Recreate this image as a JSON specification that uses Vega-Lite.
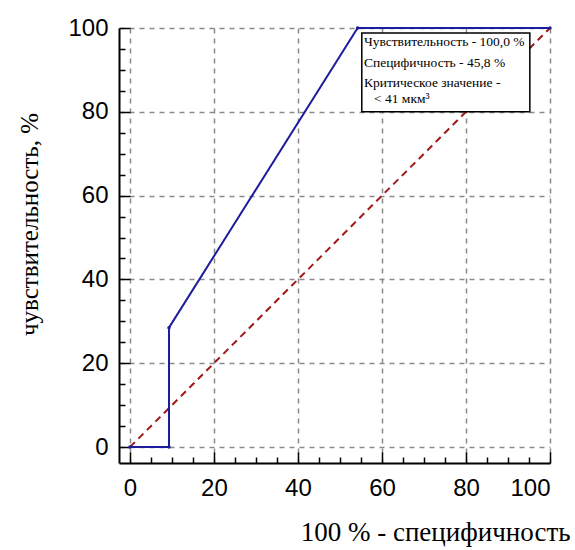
{
  "$schema": "https://vega.github.io/schema/vega-lite/v6.json",
  "width": 431,
  "height": 435,
  "autosize": {"type": "none"},
  "padding": {"left": 119, "top": 28, "right": 25, "bottom": 87},
  "background": "white",
  "config": {
    "view": {"stroke": null},
    "axis": {
      "domainColor": "black",
      "domainWidth": 2,
      "tickColor": "black",
      "tickWidth": 1.5,
      "gridColor": "#8a8a8a",
      "gridDash": [5, 5],
      "gridWidth": 1.5,
      "labelFont": "Liberation Sans",
      "labelFontSize": 24,
      "labelColor": "black",
      "titleFont": "Liberation Serif",
      "titleFontSize": 25,
      "titleFontWeight": "normal",
      "titleColor": "black"
    }
  },
  "datasets": {
    "roc": [
      {"x": 0, "y": 0},
      {"x": 9.3, "y": 0},
      {"x": 9.3, "y": 28.5},
      {"x": 54.2, "y": 100},
      {"x": 100, "y": 100}
    ],
    "diag": [
      {"x": 0, "y": 0},
      {"x": 100, "y": 100}
    ],
    "box": [
      {"x1": 55.2, "x2": 95.2, "y1": 80, "y2": 98.8}
    ],
    "notes": [
      {"x": 55.7, "y": 96.7, "t": "Чувствительность - 100,0 %"},
      {"x": 55.7, "y": 91.6, "t": "Специфичность - 45,8 %"},
      {"x": 55.7, "y": 86.9, "t": "Критическое значение -"},
      {"x": 58.1, "y": 83.1, "t": "< 41 мкм³"}
    ]
  },
  "resolve": {"axis": {"x": "independent", "y": "independent"}},
  "layer": [
    {
      "data": {"name": "diag"},
      "mark": {"type": "line", "color": "#a01818", "strokeWidth": 2, "strokeDash": [7, 5]},
      "encoding": {
        "x": {
          "field": "x", "type": "quantitative",
          "scale": {"domain": [-2.6, 100], "nice": false, "zero": false},
          "axis": {
            "orient": "bottom",
            "values": [0, 20, 40, 60, 80, 100],
            "domain": false,
            "ticks": false,
            "tickSize": 0,
            "grid": true,
            "labelPadding": 13,
            "title": "100 % - специфичность",
            "titleFontSize": 27,
            "titleAnchor": "end",
            "titleAlign": "right",
            "titleX": 451,
            "titleY": 77,
            "titleBaseline": "alphabetic"
          }
        },
        "y": {
          "field": "y", "type": "quantitative",
          "scale": {"domain": [-3.8, 100], "nice": false, "zero": false},
          "axis": {
            "orient": "left",
            "values": [0, 20, 40, 60, 80, 100],
            "domain": false,
            "ticks": false,
            "tickSize": 0,
            "grid": true,
            "labelPadding": 11,
            "title": "чувствительность, %",
            "titleX": -90,
            "titleY": 196,
            "titleAlign": "center",
            "titleBaseline": "middle",
            "titleAngle": -90
          }
        }
      }
    },
    {
      "data": {"name": "roc"},
      "mark": {"type": "line", "color": "#1c1c9c", "strokeWidth": 2, "point": {"filled": true, "size": 12, "color": "#1c1c9c"}},
      "encoding": {
        "x": {
          "field": "x", "type": "quantitative",
          "axis": {
            "orient": "top",
            "offset": -435,
            "values": [0,5,10,15,20,25,30,35,40,45,50,55,60,65,70,75,80,85,90,95,100],
            "labels": false,
            "grid": false,
            "title": null,
            "domain": true,
            "ticks": true,
            "tickSize": {"condition": {"test": "datum.value % 20 === 0", "value": 11}, "value": 6}
          }
        },
        "y": {
          "field": "y", "type": "quantitative",
          "axis": {
            "orient": "right",
            "offset": -431,
            "values": [0,5,10,15,20,25,30,35,40,45,50,55,60,65,70,75,80,85,90,95,100],
            "labels": false,
            "grid": false,
            "title": null,
            "domain": true,
            "ticks": true,
            "tickSize": {"condition": {"test": "datum.value % 20 === 0", "value": 11}, "value": 6}
          }
        }
      }
    },
    {
      "data": {"name": "box"},
      "mark": {"type": "rect", "fill": "black", "dx": 3, "dy": 3},
      "encoding": {
        "x": {"field": "x1", "type": "quantitative", "axis": null},
        "x2": {"field": "x2"},
        "y": {"field": "y1", "type": "quantitative", "axis": null},
        "y2": {"field": "y2"}
      }
    },
    {
      "data": {"name": "box"},
      "mark": {"type": "rect", "fill": "white", "stroke": "black", "strokeWidth": 1.5},
      "encoding": {
        "x": {"field": "x1", "type": "quantitative", "axis": null},
        "x2": {"field": "x2"},
        "y": {"field": "y1", "type": "quantitative", "axis": null},
        "y2": {"field": "y2"}
      }
    },
    {
      "data": {"name": "notes"},
      "mark": {"type": "text", "align": "left", "baseline": "middle", "font": "Liberation Serif", "fontSize": 13.5, "color": "black"},
      "encoding": {
        "x": {"field": "x", "type": "quantitative", "axis": null},
        "y": {"field": "y", "type": "quantitative", "axis": null},
        "text": {"field": "t"}
      }
    }
  ]
}
